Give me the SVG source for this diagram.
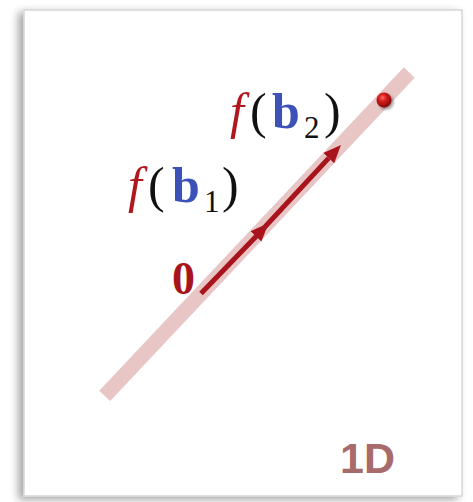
<svg xmlns="http://www.w3.org/2000/svg" width="473" height="502" viewBox="0 0 473 502">
  <style>
    .math { font-family: "Liberation Serif", "DejaVu Serif", serif; font-size: 50px; }
    .fn { fill: #b0181f; font-style: italic; }
    .vec { fill: #3c52b8; font-weight: bold; }
    .par { fill: #111111; }
    .sub { fill: #111111; font-size: 31px; }
  </style>
  <defs>
    <filter id="cardShadow" x="-10%" y="-10%" width="120%" height="120%">
      <feDropShadow dx="-5" dy="3" stdDeviation="4" flood-color="#000000" flood-opacity="0.35"/>
    </filter>
    <filter id="dotShadow" x="-100%" y="-100%" width="300%" height="300%">
      <feDropShadow dx="2" dy="2" stdDeviation="1.5" flood-color="#000000" flood-opacity="0.4"/>
    </filter>
    <radialGradient id="ball" cx="0.4" cy="0.35" r="0.7">
      <stop offset="0" stop-color="#ff6a6a"/>
      <stop offset="0.35" stop-color="#d81c1c"/>
      <stop offset="1" stop-color="#7a0808"/>
    </radialGradient>
    <marker id="head" markerUnits="userSpaceOnUse" viewBox="0 -8 18 16" refX="0" refY="0" markerWidth="18" markerHeight="16" orient="auto">
      <path d="M0,-7.5 L18,0 L0,7.5 Z" fill="#a8141c"/>
    </marker>
  </defs>

  <g id="card">
    <rect x="24" y="10" width="438" height="486" fill="#ffffff" stroke="#d6d6d6" stroke-width="1.5" filter="url(#cardShadow)"/>
  </g>

  <g id="connectors">
    <line x1="104.7" y1="395.8" x2="409.3" y2="72.5" stroke="#e9c6c6" stroke-width="15"/>
    <path d="M201,293.5 L256,236.4 L328.7,158.1" fill="none" stroke="#a8141c" stroke-width="5" marker-mid="url(#head)" marker-end="url(#head)"/>
  </g>

  <g id="point">
    <circle cx="384" cy="100" r="7.5" fill="url(#ball)" filter="url(#dotShadow)"/>
  </g>

  <g id="label-fb2" class="math">
    <text x="230" y="128" class="fn">f</text>
    <text x="250" y="128" class="par">(</text>
    <text x="272" y="128" class="vec">b</text>
    <text x="304" y="138" class="sub">2</text>
    <text x="324" y="128" class="par">)</text>
  </g>

  <g id="label-fb1" class="math">
    <text x="128" y="202" class="fn">f</text>
    <text x="148" y="202" class="par">(</text>
    <text x="172" y="202" class="vec">b</text>
    <text x="204" y="212" class="sub">1</text>
    <text x="222" y="202" class="par">)</text>
  </g>

  <g id="label-zero">
    <text x="172" y="294" font-family="Liberation Serif, DejaVu Serif, serif" font-size="46" font-weight="bold" fill="#a8141c">0</text>
  </g>

  <g id="label-1d">
    <text x="340" y="473" font-family="Liberation Sans, Arial, sans-serif" font-size="43" font-weight="bold" fill="#a86b6b">1D</text>
  </g>
</svg>
